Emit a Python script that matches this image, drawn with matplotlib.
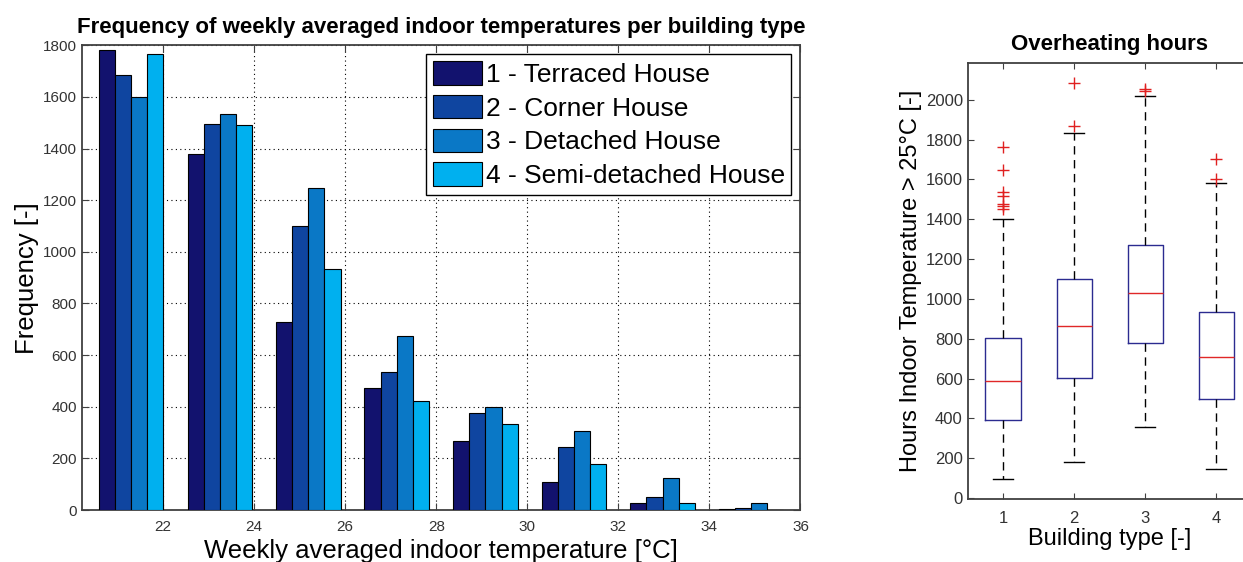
import numpy as np
import matplotlib.pyplot as plt
from matplotlib.patches import Patch

plt.rcParams['font.family'] = ['Liberation Sans', 'DejaVu Sans']

# histogram data (bin centres in degC, counts per building type)
bin_centres = [21.30, 23.25, 25.19, 27.13, 29.08, 31.02, 32.97, 34.91]
terraced = [1781, 1377, 729, 471, 266, 107, 28, 4]
corner = [1684, 1494, 1100, 533, 374, 243, 50, 8]
detached = [1600, 1534, 1249, 674, 399, 307, 125, 28]
semi = [1765, 1493, 932, 423, 335, 177, 28, 0]
house_labels = ['1 - Terraced House', '2 - Corner House',
                '3 - Detached House', '4 - Semi-detached House']
bar_colors = ['#12126e', '#0f45a0', '#0a78c6', '#00b0ef']

# boxplot stats (overheating hours per building type)
types = [1, 2, 3, 4]
q1 = [391, 604, 778, 497]
med = [587, 863, 1029, 706]
q3 = [803, 1100, 1273, 933]
wlo = [95, 179, 359, 147]
whi = [1401, 1835, 2020, 1582]
fliers = [[1765, 1645, 1535, 1515, 1475, 1465, 1450],
          [2082, 1870],
          [2045, 2055],
          [1702, 1602]]

tick_col = '#333333'
spine_col = '#404040'

fig = plt.figure(figsize=(12.43, 5.62), dpi=100)

# ---- left: grouped histogram ----
ax = fig.add_axes([0.066, 0.0925, 0.578, 0.827])
w = 0.354
series = [terraced, corner, detached, semi]
x = np.array(bin_centres)
for i, vals in enumerate(series):
    ax.bar(x + (i - 1.5) * w, vals, width=w, color=bar_colors[i],
           edgecolor='black', linewidth=0.8, zorder=3)

ax.set_xlim(20.22, 36)
ax.set_ylim(0, 1800)
ax.set_xticks(range(22, 37, 2))
ax.set_yticks(range(0, 1801, 200))
ax.grid(True, linestyle=(0, (1, 3)), color='black', linewidth=0.8)
ax.set_axisbelow(True)
ax.tick_params(direction='in', top=True, right=True, length=5,
               labelsize=11, labelcolor=tick_col, color=spine_col)
ax.tick_params(axis='x', pad=7)
for s in ax.spines.values():
    s.set_color(spine_col)
    s.set_linewidth(1.3)
ax.set_title('Frequency of weekly averaged indoor temperatures per building type',
             fontsize=16, fontweight='bold', pad=9)
ax.set_xlabel('Weekly averaged indoor temperature [°C]', fontsize=18.5, labelpad=4)
ax.set_ylabel('Frequency [-]', fontsize=18.5, labelpad=3)

handles = [Patch(facecolor=c, edgecolor='black', linewidth=0.8) for c in bar_colors]
leg = ax.legend(handles, house_labels, loc='upper right', fontsize=19,
                fancybox=False, edgecolor='black', framealpha=1,
                borderaxespad=0.35, borderpad=0.25, handlelength=1.85,
                handleheight=1.0, handletextpad=0.15, labelspacing=0.3)
leg.get_frame().set_linewidth(1.0)

# ---- right: boxplot ----
bx = fig.add_axes([0.7785, 0.1121, 0.2287, 0.776])
stats = []
for i in range(4):
    stats.append(dict(med=med[i], q1=q1[i], q3=q3[i], whislo=wlo[i],
                      whishi=whi[i], fliers=fliers[i]))
bx.bxp(stats, positions=types, widths=0.5, showfliers=True,
       boxprops=dict(color='#2b2b90', linewidth=1.0),
       medianprops=dict(color='#e02828', linewidth=1.0),
       whiskerprops=dict(color='black', linestyle=(0, (6, 4)), linewidth=1.0),
       capprops=dict(color='black', linewidth=1.0),
       capwidths=0.28,
       flierprops=dict(marker='+', markeredgecolor='#e02020', markersize=9,
                       markeredgewidth=1.0))
bx.set_xlim(0.5, 4.5)
bx.set_ylim(-5, 2185)
bx.set_yticks(range(0, 2001, 200))
bx.set_xticks(types)
bx.set_xticklabels([str(t) for t in types])
bx.tick_params(direction='in', top=True, right=True, length=4,
               labelsize=12, labelcolor=tick_col, color=spine_col)
bx.tick_params(axis='x', pad=9)
for s in bx.spines.values():
    s.set_color(spine_col)
    s.set_linewidth(1.3)
bx.set_title('Overheating hours', fontsize=16, fontweight='bold', pad=9)
bx.set_xlabel('Building type [-]', fontsize=17, labelpad=1)
bx.set_ylabel('Hours Indoor Temperature > 25°C [-]', fontsize=17, labelpad=3)

fig.savefig('out.png', dpi=100)
